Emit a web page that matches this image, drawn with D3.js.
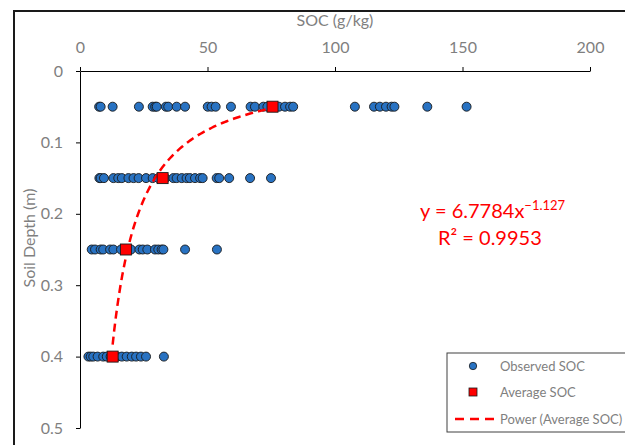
<!DOCTYPE html>
<html>
<head>
<meta charset="utf-8">
<script src="https://cdn.jsdelivr.net/npm/d3@7"></script>
<style>
  body { margin: 0; background: #fff; }
  svg { display: block; font-family: Lato, 'Open Sans', sans-serif; }
</style>
</head>
<body>
<div id="chart"></div>
<script>
// observed SOC (g/kg) by sampling depth (m)
const depths = [0.05, 0.15, 0.25, 0.4]
const obs05 = [7.5, 8.1, 12.8, 23.1, 28.5, 29.5, 30.1, 33.7, 34.6, 37.9, 41.2, 50.1, 51.6, 53.2, 59.2,
  66.9, 68.6, 71.9, 73.5, 78, 80.4, 82.4, 83.6, 107.8, 115.3, 117.6, 120, 122.2, 123.3, 136.2, 151.6]
const obs15 = [7.6, 8.1, 9.4, 13.1, 15, 16.4, 19, 21, 23, 25.9, 28.5, 30.7, 33.5, 36.6, 37.9, 39.9,
  41.8, 43.1, 45.1, 47.1, 48.1, 53.6, 54.6, 58.5, 66.7, 74.9]
const obs25 = [4.6, 5.9, 8.1, 9.1, 11.8, 13.1, 16.1, 20, 23.3, 24.6, 26.4, 29.4, 30.7, 32, 32.7, 41.2, 53.7]
const obs40 = [3.3, 4.2, 5.2, 6.9, 9.1, 10.5, 12, 14.5, 16.4, 18.3, 20.3, 22, 23.9, 25.9, 32.9]
const avgSOC = [75.5, 32.4, 18, 12.8]

// power trendline y = a * x^b (from the chart's label)
const fitA = 6.7784
const fitB = -1.127

const xTicks = [0, 50, 100, 150, 200]
const yTicks = [0, 0.1, 0.2, 0.3, 0.4, 0.5]

const W = 625, H = 445
const GREY = '#7f7f7f'
const BLUE = '#2872c2'

const svg = d3.select('#chart').append('svg')
  .attr('width', W).attr('height', H)

// chart frame (cropped at right/bottom)
svg.append('rect')
  .attr('x', 14).attr('y', 11)
  .attr('width', W).attr('height', H)
  .attr('fill', 'none').attr('stroke', '#1a1a1a').attr('stroke-width', 2)

const x = d3.scaleLinear().domain([0, 200]).range([80, 590])
const y = d3.scaleLinear().domain([0, 0.5]).range([71, 428])

const xAxis = svg.append('g')
  .attr('transform', `translate(0,${y(0)})`)
  .call(d3.axisTop(x).tickValues(xTicks).tickSize(4).tickSizeOuter(0).tickPadding(14))
const yAxis = svg.append('g')
  .attr('transform', `translate(${x(0)},0)`)
  .call(d3.axisLeft(y).tickValues(yTicks).tickSize(4).tickSizeOuter(0).tickPadding(13)
    .tickFormat(d => d === 0 ? '0' : d3.format('.1f')(d)))

function styleAxis(g) {
  g.select('.domain').attr('stroke', '#000').attr('stroke-width', 1)
  g.selectAll('.tick line').attr('stroke', '#000')
  g.selectAll('text').attr('fill', GREY).attr('font-size', '16px').attr('font-family', 'Lato, sans-serif')
}
styleAxis(xAxis)
styleAxis(yAxis)

svg.append('text')
  .attr('x', (x(0) + x(200)) / 2).attr('y', 26)
  .attr('text-anchor', 'middle')
  .attr('fill', GREY).attr('font-size', '16px')
  .text('SOC (g/kg)')

svg.append('text')
  .attr('transform', `translate(35,238) rotate(-90)`)
  .attr('text-anchor', 'middle')
  .attr('fill', GREY).attr('font-size', '16px')
  .text('Soil Depth (m)')

// observed points
const observed = [obs05, obs15, obs25, obs40]
  .flatMap((arr, i) => arr.map(v => ({ soc: v, depth: depths[i] })))

svg.append('g').selectAll('circle')
  .data(observed)
  .join('circle')
  .attr('cx', d => x(d.soc))
  .attr('cy', d => y(d.depth))
  .attr('r', 4.5)
  .attr('fill', BLUE)
  .attr('stroke', '#1a1a1a')
  .attr('stroke-width', 0.9)

// power trendline over the range of averages
const xMin = d3.min(avgSOC), xMax = d3.max(avgSOC)
const fitPts = d3.range(0, 101).map(i => {
  const s = xMin + (xMax - xMin) * i / 100
  return [s, fitA * Math.pow(s, fitB)]
})

svg.append('path')
  .datum(fitPts)
  .attr('d', d3.line().x(d => x(d[0])).y(d => y(d[1])))
  .attr('fill', 'none')
  .attr('stroke', '#ff0000')
  .attr('stroke-width', 2.5)
  .attr('stroke-dasharray', '8,5')

// averages
svg.append('g').selectAll('rect')
  .data(avgSOC.map((v, i) => ({ soc: v, depth: depths[i] })))
  .join('rect')
  .attr('x', d => x(d.soc) - 5.5)
  .attr('y', d => y(d.depth) - 5.5)
  .attr('width', 11).attr('height', 11)
  .attr('fill', '#ff0000')
  .attr('stroke', '#1a1a1a')
  .attr('stroke-width', 0.9)

// equation label
const eq = svg.append('text')
  .attr('x', 420).attr('y', 218)
  .attr('fill', '#ff0000').attr('font-size', '20px')
eq.append('tspan').text('y = 6.7784x')
eq.append('tspan').attr('dy', -8).attr('font-size', '13px').text('\u22121.127')

svg.append('text')
  .attr('x', 438).attr('y', 245)
  .attr('fill', '#ff0000').attr('font-size', '20px')
  .text('R\u00b2 = 0.9953')

// legend
const lg = svg.append('g')
lg.append('rect')
  .attr('x', 447).attr('y', 353)
  .attr('width', 190).attr('height', 79)
  .attr('fill', '#fff').attr('stroke', '#404040').attr('stroke-width', 1)

lg.append('circle')
  .attr('cx', 473).attr('cy', 366).attr('r', 3.7)
  .attr('fill', BLUE).attr('stroke', '#1a1a1a').attr('stroke-width', 0.8)
lg.append('rect')
  .attr('x', 469).attr('y', 388).attr('width', 8).attr('height', 8)
  .attr('fill', '#ff0000').attr('stroke', '#1a1a1a').attr('stroke-width', 0.8)
lg.append('line')
  .attr('x1', 455).attr('x2', 497).attr('y1', 419).attr('y2', 419)
  .attr('stroke', '#ff0000').attr('stroke-width', 2.5).attr('stroke-dasharray', '9,6')

const legendLabels = ['Observed SOC', 'Average SOC', 'Power (Average SOC)']
lg.selectAll('text.lbl')
  .data(legendLabels)
  .join('text')
  .attr('class', 'lbl')
  .attr('x', 500)
  .attr('y', (d, i) => 370.5 + i * 26.5)
  .attr('fill', GREY).attr('font-size', '13px')
  .text(d => d)
</script>
</body>
</html>
